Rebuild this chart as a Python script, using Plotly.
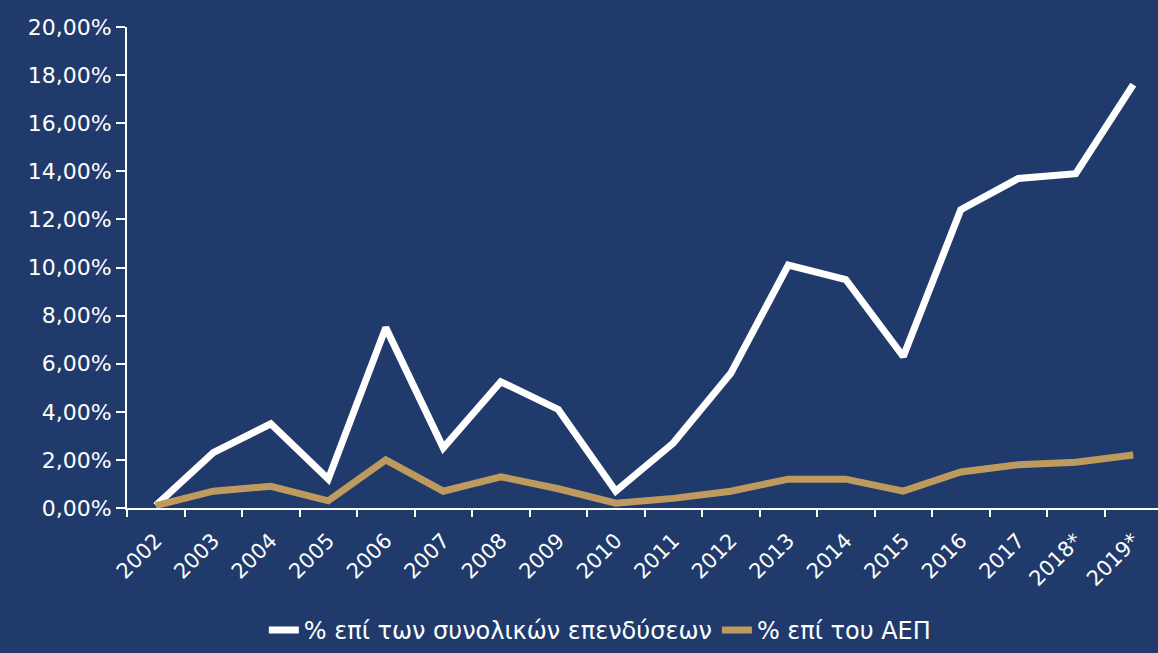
import plotly.graph_objects as go

years = ["2002", "2003", "2004", "2005", "2006", "2007", "2008", "2009", "2010",
         "2011", "2012", "2013", "2014", "2015", "2016", "2017", "2018*", "2019*"]
pct_investment = [0.1, 2.3, 3.5, 1.2, 7.5, 2.5, 5.25, 4.1, 0.7,
                  2.7, 5.6, 10.1, 9.5, 6.3, 12.4, 13.7, 13.9, 17.6]
pct_gdp = [0.1, 0.7, 0.9, 0.3, 2.0, 0.7, 1.3, 0.8, 0.2,
           0.4, 0.7, 1.2, 1.2, 0.7, 1.5, 1.8, 1.9, 2.2]
y_ticks = [0, 2, 4, 6, 8, 10, 12, 14, 16, 18, 20]
y_tick_labels = ["0,00%", "2,00%", "4,00%", "6,00%", "8,00%", "10,00%",
                 "12,00%", "14,00%", "16,00%", "18,00%", "20,00%"]

BG = "#203B6B"
GOLD = "#BE9A5E"
FONT = "DejaVu Sans"

fig = go.Figure()
fig.add_trace(go.Scatter(x=years, y=pct_investment, mode="lines",
                         name="% επί των συνολικών επενδύσεων",
                         line=dict(color="white", width=7)))
fig.add_trace(go.Scatter(x=years, y=pct_gdp, mode="lines",
                         name="% επί του ΑΕΠ",
                         line=dict(color=GOLD, width=7)))

fig.update_layout(
    width=1158, height=653,
    paper_bgcolor=BG, plot_bgcolor=BG,
    margin=dict(l=127, r=0, t=27, b=145),
    font=dict(family=FONT, color="white", size=20),
    showlegend=True,
    legend=dict(orientation="h", xref="container", yref="container",
                x=0.518, xanchor="center", y=0.0, yanchor="bottom",
                font=dict(size=24, color="white"),
                bgcolor="rgba(0,0,0,0)"),
)
fig.update_xaxes(type="category", range=[-0.5, 17.43], showgrid=False,
                 showline=True, linecolor="white", linewidth=2,
                 ticks="outside", tickson="boundaries", ticklen=7, tickwidth=2,
                 tickcolor="white", tickangle=-45, tickfont=dict(size=21),
                 ticklabelstandoff=10, zeroline=False)
fig.update_yaxes(range=[0, 20], tickvals=y_ticks, ticktext=y_tick_labels,
                 showgrid=False, showline=True, linecolor="white", linewidth=2,
                 ticks="outside", ticklen=9, tickwidth=2, tickcolor="white",
                 tickfont=dict(size=22), zeroline=False)

fig.write_html("out.html", config={"displayModeBar": False},
               post_script="document.body.style.margin='0';")
